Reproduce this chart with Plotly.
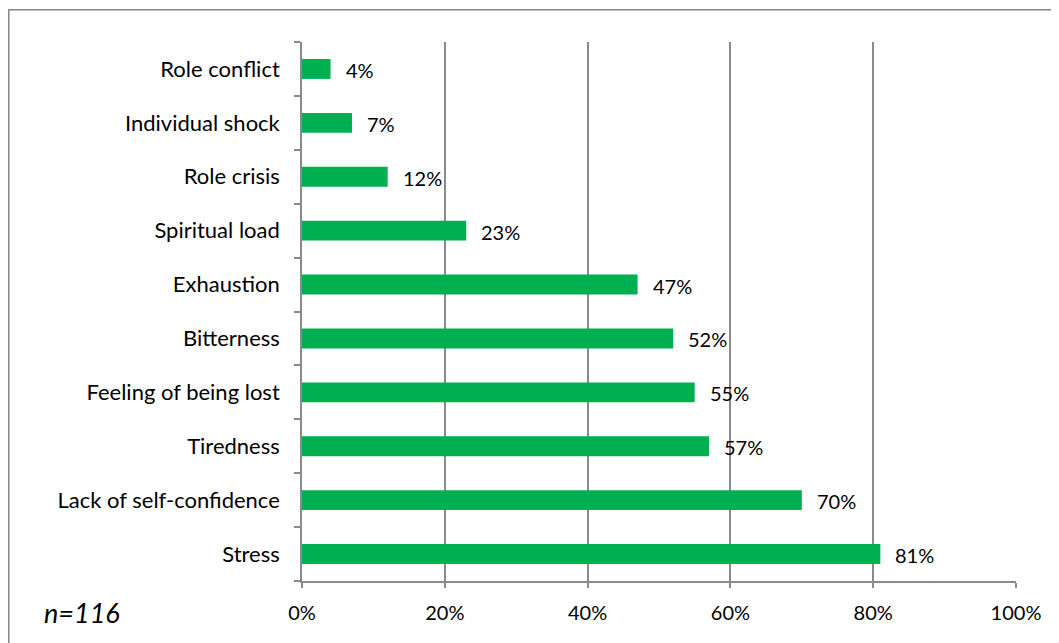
import plotly.graph_objects as go

categories = ["Stress", "Lack of self-confidence", "Tiredness", "Feeling of being lost",
              "Bitterness", "Exhaustion", "Spiritual load", "Role crisis",
              "Individual shock", "Role conflict"]
values = [81, 70, 57, 55, 52, 47, 23, 12, 7, 4]
x_ticks = [0, 20, 40, 60, 80, 100]
x_tick_labels = ["0%", "20%", "40%", "60%", "80%", "100%"]
sample_note = "n=116"

FONT = "Lato"
OFF = 8  # page body margin
W, H = 1059 - OFF, 643 - OFF
# target page-pixel geometry
px_left, px_right, px_top, px_bottom = 302, 1016, 42, 581
L = px_left - OFF
R = W - (px_right - OFF)
T = px_top - OFF
B = H - (px_bottom - OFF)
pw, ph = W - L - R, H - T - B


def px_to_xpaper(px):
    return (px - px_left) / pw


def px_to_ypaper(py):
    return (px_bottom - py) / ph


fig = go.Figure()
fig.add_trace(go.Bar(
    y=categories, x=values, orientation="h",
    marker=dict(color="#00B050", line=dict(width=0)),
    width=0.37, hoverinfo="skip",
))

for c, v in zip(categories, values):
    fig.add_annotation(x=v, y=c, xref="x", yref="y", text=f"{v}%",
                       showarrow=False, xanchor="left", xshift=13, yshift=-1,
                       font=dict(family=FONT, size=20, color="#000000"))

fig.add_annotation(xref="paper", yref="paper", x=px_to_xpaper(42), y=px_to_ypaper(612),
                   text=f"<i>{sample_note}</i>", showarrow=False, xanchor="left", yanchor="middle",
                   font=dict(family=FONT, size=27, color="#000000"))

# outer chart border
fig.add_shape(type="rect", xref="paper", yref="paper",
              x0=px_to_xpaper(8.8), x1=px_to_xpaper(1075),
              y0=px_to_ypaper(660), y1=px_to_ypaper(9.8),
              line=dict(color="#868686", width=1.5), fillcolor="rgba(0,0,0,0)", layer="above")

GRID = "#8a8a8a"
fig.update_layout(
    width=W, height=H,
    margin=dict(l=L, r=R, t=T, b=B, pad=0),
    paper_bgcolor="white", plot_bgcolor="white",
    showlegend=False,
    font=dict(family=FONT, size=20, color="#000000"),
    xaxis=dict(range=[0, 100], tickvals=x_ticks, ticktext=x_tick_labels,
               tickfont=dict(family=FONT, size=20, color="#000000"),
               showgrid=True, gridcolor=GRID, gridwidth=1.6,
               showline=True, linecolor=GRID, linewidth=1.6,
               ticks="outside", ticklen=5, tickcolor=GRID, tickwidth=1.6,
               ticklabelstandoff=8, zeroline=False, fixedrange=True),
    yaxis=dict(type="category", categoryorder="array", categoryarray=categories,
               range=[-0.5, len(categories) - 0.5],
               tickfont=dict(family=FONT, size=22, color="#000000"),
               showline=True, linecolor=GRID, linewidth=1.6,
               ticks="outside", ticklen=6, tickcolor=GRID, tickwidth=1.6,
               tickson="boundaries", ticklabelstandoff=16,
               showgrid=False, zeroline=False, fixedrange=True),
)

fig.write_html("out.html")
